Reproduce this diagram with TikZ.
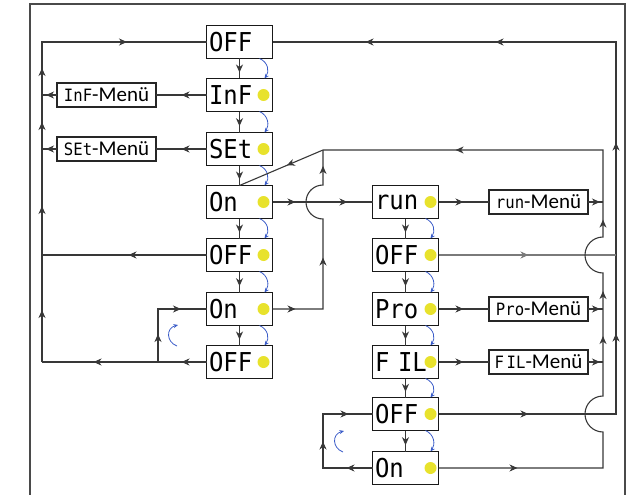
\documentclass[tikz,border=0pt]{standalone}
\usepackage{fontspec}
\setmainfont{Carlito}
\newfontfamily\segfont[FakeStretch=0.92]{DejaVu Sans Mono}
\usetikzlibrary{arrows.meta,decorations.markings}
\definecolor{lncol}{HTML}{383838}
\definecolor{lightln}{HTML}{7A7A7A}
\definecolor{bluearc}{HTML}{3A5CC8}
\definecolor{dotyel}{HTML}{E8E22C}
\definecolor{framecol}{HTML}{4A4A4A}
\newcommand{\segbig}{\segfont\fontsize{26}{26}\selectfont}
\newcommand{\segsmall}[1]{{\segfont\fontsize{17}{17}\selectfont #1}}
\newcommand{\narrowsp}{{\fontsize{5}{5}\selectfont\ }}
\tikzset{
  disp/.style={draw=black!90, line width=1.6pt, minimum height=33pt, text width=61pt,
    inner xsep=2.5pt, inner ysep=0pt, align=left, outer sep=0pt, font=\segbig},
  menu/.style={draw=black!85, line width=1.3pt, minimum width=99pt, minimum height=24pt,
    inner sep=0pt, outer sep=0pt, font=\fontsize{21}{21}\selectfont},
  conn/.style={draw=lncol, line width=1.1pt},
  lconn/.style={draw=lightln, line width=1.1pt},
  ma/.style={postaction={decorate, decoration={markings,
    mark=at position #1 with {\arrow{Stealth[length=8pt,width=7pt,inset=2.5pt]}}}}},
  cyc/.style={draw=bluearc, line width=0.8pt, -{Stealth[length=4.5pt,width=4pt]}},
  ydot/.style={fill=dotyel, draw=none},
}
\begin{document}
\begin{tikzpicture}[x=1pt,y=-1pt]
\clip (0,0) rectangle (632,495);
% outer frame
\draw[framecol, line width=1.4pt] (30,505) -- (30,4) -- (625,4) -- (625,505);

% left column
\node[disp] (L1) at (239.5,42) {OFF};
\node[disp] (L2) at (239.5,95) {InF};
\node[disp] (L3) at (239.5,149) {SEt};
\node[disp] (L4) at (239.5,202) {On};
\node[disp] (L5) at (239.5,255) {OFF};
\node[disp] (L6) at (239.5,309) {On};
\node[disp] (L7) at (239.5,362) {OFF};
% right column
\node[disp] (R1) at (405.5,202) {run};
\node[disp] (R2) at (405.5,255) {OFF};
\node[disp] (R3) at (405.5,309) {Pro};
\node[disp] (R4) at (405.5,362) {F\narrowsp IL};
\node[disp] (R5) at (405.5,414) {OFF};
\node[disp] (R6) at (405.5,468) {On};
% menus
\node[menu] (IM) at (106.5,95) {\segsmall{InF}-Menü};
\node[menu] (SM) at (106.5,149) {\segsmall{SEt}-Menü};
\node[menu] (RM) at (538.5,202) {\segsmall{run}-Menü};
\node[menu] (PM) at (538.5,309) {\segsmall{Pro}-Menü};
\node[menu] (FM) at (538.5,362) {\segsmall{F\narrowsp IL}-Menü};

% yellow dots
\foreach \n in {L2,L3,L4,L5,L6,L7}{\fill[ydot] ([xshift=-9pt]\n.east) circle[radius=6pt];}
\foreach \n in {R1,R2,R3,R4,R5,R6}{\fill[ydot] ([xshift=-8pt]\n.east) circle[radius=6pt];}

% coordinates
\coordinate (cTL) at (42,42);
\coordinate (cL95) at (42,95);
\coordinate (cL149) at (42,149);
\coordinate (cL255) at (42,255);
\coordinate (cL362) at (42,362);
\coordinate (cTR) at (616,42);
\coordinate (c616a) at (616,255);
\coordinate (c616b) at (616,414);
\coordinate (c603top) at (603,150);
\coordinate (c603r) at (603,202);
\coordinate (c603p) at (603,309);
\coordinate (c603f) at (603,362);
\coordinate (c603bot) at (603,468);
\coordinate (c323top) at (323,150);
\coordinate (c323b) at (323,309);
\coordinate (c158a) at (158,362);
\coordinate (c158b) at (158,309);
\coordinate (cRb1) at (323,468);
\coordinate (cRb2) at (323,414);

% down connectors
\foreach \a/\b in {L1/L2,L2/L3,L3/L4,L4/L5,L5/L6,L6/L7,R1/R2,R2/R3,R3/R4,R4/R5,R5/R6}{
  \draw[conn, ma=0.7] (\a.south) -- (\b.north);
}
% blue cycle arcs
\foreach \a/\b in {L1/L2,L2/L3,L3/L4,L4/L5,L5/L6,L6/L7,R1/R2,R2/R3,R3/R4,R4/R5,R5/R6}{
  \draw[cyc] ([xshift=-13pt]\a.south east) .. controls +(9,4) and +(5,-7) .. ([xshift=-8pt]\b.north east);
}
\draw[cyc] (177,346) .. controls (166,342) and (166,328) .. (178,325);
\draw[cyc] (343,452) .. controls (332,448) and (332,434) .. (344,431);

% left outer loop
\draw[conn, ma=52pt, ma=156pt, ma=240pt, ma=294pt, ma=405pt] (cL362) -- (cTL) -- (L1.west);
% right outer loop
\draw[conn, ma=90pt, ma=258pt, ma=449pt, ma=670pt, ma=800pt] (R5.east) -- (c616b) -- (cTR) -- (L1.east);
\draw[lconn, ma=90pt] (R2.east) -- (c616a);
% inner right loop
\draw[conn, ma=79pt, ma=317pt, ma=362pt, ma=454pt, ma=671pt, ma=843pt]
  (R6.east) -- (c603bot) -- (603,432)
  .. controls (593.06,432) and (585,423.94) .. (585,414)
  .. controls (585,404.06) and (593.06,396) .. (603,396)
  -- (603,273)
  .. controls (593.06,273) and (585,264.94) .. (585,255)
  .. controls (585,245.06) and (593.06,237) .. (603,237)
  -- (c603top) -- (c323top) -- (L4.north);
% On (row 6) loop up
\draw[conn, ma=23pt, ma=102pt, ma=213pt]
  (L6.east) -- (c323b) -- (323,219)
  .. controls (313.6,219) and (306,211.4) .. (306,202)
  .. controls (306,192.6) and (313.6,185) .. (323,185)
  -- (c323top);
% On -> run
\draw[conn, ma=23pt, ma=75pt] (L4.east) -- (R1.west);
% to menus
\draw[conn, ma=25pt] (R1.east) -- (RM.west);
\draw[conn, ma=25pt] (R3.east) -- (PM.west);
\draw[conn, ma=25pt] (R4.east) -- (FM.west);
\draw[conn, ma=12pt] (RM.east) -- (c603r);
\draw[conn, ma=12pt] (PM.east) -- (c603p);
\draw[conn, ma=12pt] (FM.east) -- (c603f);
\draw[conn, ma=25pt] (L2.west) -- (IM.east);
\draw[conn, ma=25pt] (L3.west) -- (SM.east);
\draw[conn, ma=11pt] (IM.west) -- (cL95);
\draw[conn, ma=11pt] (SM.west) -- (cL149);
% left returns
\draw[conn, ma=78pt] (L5.west) -- (cL255);
\draw[conn, ma=25pt, ma=113pt] (L7.west) -- (c158a) -- (cL362);
\draw[conn, ma=28pt, ma=76pt] (c158a) -- (c158b) -- (L6.west);
% right bottom loop
\draw[conn, ma=26pt, ma=76pt, ma=129pt] (R6.west) -- (cRb1) -- (cRb2) -- (R5.west);
\end{tikzpicture}
\end{document}
